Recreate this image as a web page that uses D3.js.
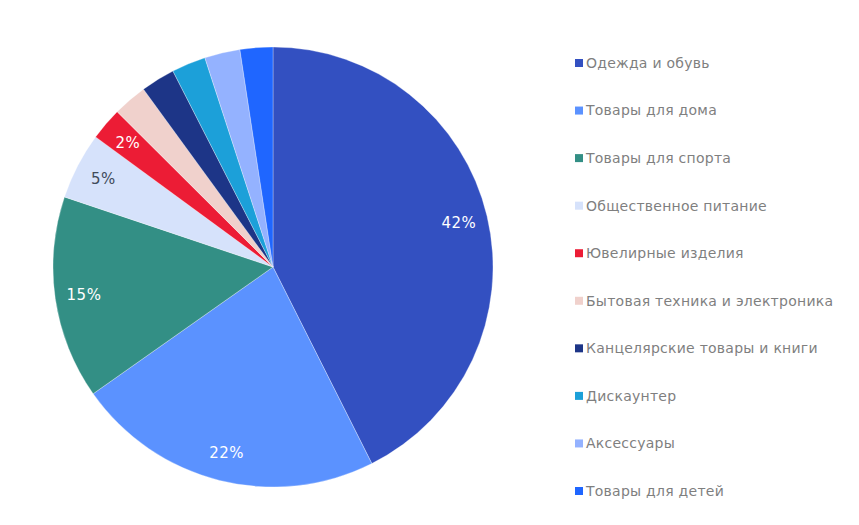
<!DOCTYPE html>
<html>
<head>
<meta charset="utf-8">
<script src="https://cdn.jsdelivr.net/npm/d3@7"></script>
<style>
  body { margin: 0; background: #fff; }
</style>
</head>
<body>
<script>
// Size
var w = 859;
var h = 525;

// Data
var categories = ["Одежда и обувь", "Товары для дома", "Товары для спорта", "Общественное питание",
                  "Ювелирные изделия", "Бытовая техника и электроника", "Канцелярские товары и книги",
                  "Дискаунтер", "Аксессуары", "Товары для детей"];
var values = [42.5, 22.6, 14.9, 4.9, 2.4, 2.5, 2.5, 2.5, 2.6, 2.4];
var sliceLabels = ["42%", "22%", "15%", "5%", "2%", "", "", "", "", ""];
var colors = ["#3350C1", "#5B92FF", "#338F85", "#D6E2FB", "#EC1C35",
              "#F0D1CC", "#1D3587", "#1CA0D9", "#94B2FF", "#1F66FF"];
var labelColors = ["#fff", "#fff", "#fff", "#404a5a", "#fff", "#fff", "#fff", "#fff", "#fff", "#fff"];

var cx = 273, cy = 267, radius = 220;

var svg = d3.select("body")
            .append("svg")
            .attr("width", w)
            .attr("height", h);

var pie = d3.pie().sort(null).value(function(d) { return d; });
var arcs = pie(values);

var arc = d3.arc().innerRadius(0).outerRadius(radius);
var labelArc = d3.arc().innerRadius(191).outerRadius(191);

var g = svg.append("g").attr("transform", "translate(" + cx + "," + cy + ")");

g.selectAll("path")
 .data(arcs)
 .enter()
 .append("path")
 .attr("d", arc)
 .attr("fill", function(d, i) { return colors[i]; })
 .attr("stroke", "#fff")
 .attr("stroke-width", 0.3);

g.selectAll("text")
 .data(arcs)
 .enter()
 .append("text")
 .text(function(d, i) { return sliceLabels[i]; })
 .attr("transform", function(d) { return "translate(" + labelArc.centroid(d) + ")"; })
 .attr("text-anchor", "middle")
 .attr("dy", "0.35em")
 .attr("font-family", "DejaVu Sans, Verdana, sans-serif")
 .attr("font-size", "15px")
 .attr("letter-spacing", "0.5px")
 .attr("fill", function(d, i) { return labelColors[i]; });

// Legend
var legendY = d3.scalePoint().domain(categories).range([63, 491]);

var legend = svg.selectAll(".legend")
                .data(categories)
                .enter()
                .append("g")
                .attr("class", "legend")
                .attr("transform", function(d) { return "translate(575," + legendY(d) + ")"; });

legend.append("rect")
      .attr("x", 0)
      .attr("y", -4)
      .attr("width", 8)
      .attr("height", 8)
      .attr("fill", function(d, i) { return colors[i]; });

legend.append("text")
      .text(function(d) { return d; })
      .attr("x", 11)
      .attr("dy", "0.35em")
      .attr("font-family", "DejaVu Sans, Verdana, sans-serif")
      .attr("font-size", "14px")
      .attr("letter-spacing", "0.25px")
      .attr("fill", "#7f7f7f");
</script>
</body>
</html>
